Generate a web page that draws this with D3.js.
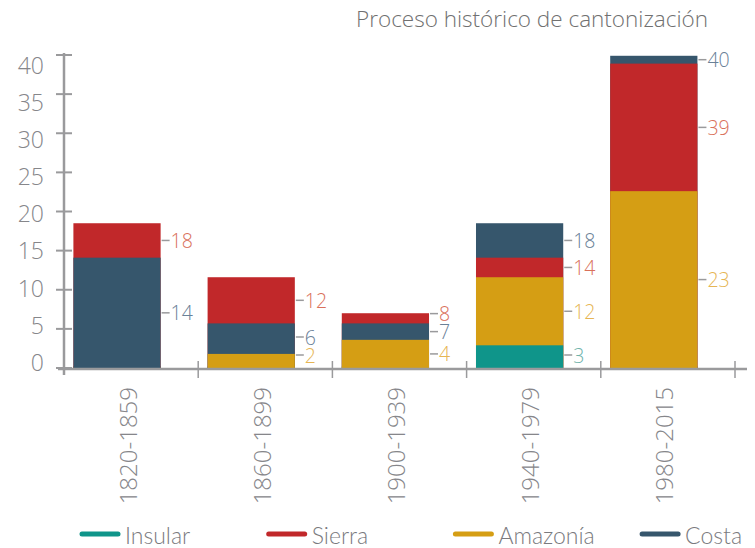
<!DOCTYPE html>
<html>
<head>
<meta charset="utf-8">
<script src="https://cdn.jsdelivr.net/npm/d3@7"></script>
<style>
  html, body { margin: 0; padding: 0; background: #fff; }
  svg { display: block; }
  text { font-family: "Open Sans", Lato, sans-serif; }
  .legend text { font-family: Lato, "Open Sans", sans-serif; }
</style>
</head>
<body>
<svg id="chart" width="755" height="548"></svg>
<script>
// ---- data ----
const title = "Proceso histórico de cantonización";
const categories = ["1820-1859", "1860-1899", "1900-1939", "1940-1979", "1980-2015"];
const seriesNames = ["Insular", "Sierra", "Amazonía", "Costa"];
const insular  = [0, 0, 0, 2.9, 0];
const sierra   = [18.5, 11.6, 7.0, 14.1, 38.9];
const amazonia = [0, 1.8, 3.6, 11.6, 22.6];
const costa    = [14.1, 5.7, 5.7, 18.5, 39.9];
const insularLabels  = ["", "", "", "3", ""];
const sierraLabels   = ["18", "12", "8", "14", "39"];
const amazoniaLabels = ["", "2", "4", "12", "23"];
const costaLabels    = ["14", "6", "7", "18", "40"];
const yTicks = [0, 5, 10, 15, 20, 25, 30, 35, 40];

// ---- styles ----
const barColors   = { "Insular": "#0f958a", "Sierra": "#c1282a", "Amazonía": "#d59e14", "Costa": "#36566c" };
const labelColors = { "Insular": "#6fb3ab", "Sierra": "#d9705a", "Amazonía": "#e6b553", "Costa": "#6a8197" };
const axisColor = "#9a9a9c";
const textColor = "#86868a";

const seriesData = {
  "Insular":  { values: insular,  labels: insularLabels },
  "Sierra":   { values: sierra,   labels: sierraLabels },
  "Amazonía": { values: amazonia, labels: amazoniaLabels },
  "Costa":    { values: costa,    labels: costaLabels }
};

const svg = d3.select("#chart");

const y = d3.scaleLinear().domain([0, 40]).range([368, 55]);
const yLab = d3.scaleLinear().domain([0, 40]).range([362, 64.5]);
const x = d3.scaleBand().domain(categories).range([64, 735]);
const bw = x.bandwidth();
const barOff = bw * 0.07, barW = bw * 0.65;

// title
svg.append("text")
  .attr("x", 708).attr("y", 27)
  .attr("text-anchor", "end")
  .attr("font-size", 22.5).attr("font-weight", 300)
  .attr("fill", "#707070")
  .text(title);

// y axis
const gy = svg.append("g");
gy.append("line").attr("x1", 64).attr("x2", 64).attr("y1", 53).attr("y2", 375)
  .attr("stroke", axisColor).attr("stroke-width", 2.5);
gy.selectAll("line.tick").data(yTicks).join("line").attr("class", "tick")
  .attr("x1", 56).attr("x2", 72)
  .attr("y1", d => y(d)).attr("y2", d => y(d))
  .attr("stroke", axisColor).attr("stroke-width", 2);
gy.selectAll("text").data(yTicks).join("text")
  .attr("x", 44).attr("y", d => yLab(d))
  .attr("text-anchor", "end").attr("dominant-baseline", "central")
  .attr("font-size", 23).attr("font-weight", 300).attr("fill", textColor)
  .text(d => d);

// bars
const gBars = svg.append("g");
categories.forEach((cat, i) => {
  const items = seriesNames.map(s => ({ s, v: seriesData[s].values[i], label: seriesData[s].labels[i] }));
  const sorted = items.slice().sort((a, b) => b.v - a.v);
  const x0 = x(cat) + barOff;
  sorted.filter(d => d.v === 0).forEach(d => {
    gBars.append("rect")
      .attr("x", x0).attr("y", y(0) - 1.5).attr("width", barW).attr("height", 1.5)
      .attr("fill", barColors[d.s]);
  });
  sorted.filter(d => d.v > 0).forEach(d => {
    gBars.append("rect")
      .attr("x", x0).attr("y", y(d.v)).attr("width", barW).attr("height", y(0) - y(d.v))
      .attr("fill", barColors[d.s]);
  });
  // labels at visible segment midpoints, resolved for overlap
  const asc = items.filter(d => d.v > 0).sort((a, b) => a.v - b.v);
  let prev = 0;
  const labs = asc.map(d => { const m = (prev + d.v) / 2; prev = d.v; return { ...d, py: y(m) }; });
  const minGap = 18;
  let last = null;
  labs.forEach(l => {
    if (l.py > y(0) - 13) l.py = y(0) - 13;
    if (last !== null && last - l.py < minGap) l.py = last - minGap;
    last = l.py;
  });
  labs.filter(l => l.label !== "").forEach(l => {
    const xr = x0 + barW;
    gBars.append("line")
      .attr("x1", xr + 1).attr("x2", xr + 9).attr("y1", l.py).attr("y2", l.py)
      .attr("stroke", axisColor).attr("stroke-width", 1.5);
    gBars.append("text")
      .attr("x", xr + 10).attr("y", l.py)
      .attr("dominant-baseline", "central")
      .attr("font-size", 19.5).attr("font-weight", 300)
      .attr("fill", labelColors[l.s])
      .text(l.label);
  });
});

// x axis
const gx = svg.append("g");
gx.append("line").attr("x1", 58).attr("x2", 747).attr("y1", 369).attr("y2", 369)
  .attr("stroke", axisColor).attr("stroke-width", 2.5);
const bounds = categories.map(c => x(c) + bw);
gx.selectAll("line.tick").data(bounds).join("line").attr("class", "tick")
  .attr("x1", d => d).attr("x2", d => d).attr("y1", 361).attr("y2", 378)
  .attr("stroke", axisColor).attr("stroke-width", 1.5);
gx.selectAll("text").data(categories).join("text")
  .attr("transform", d => `translate(${x(d) + bw / 2 - 4},387) rotate(-90)`)
  .attr("text-anchor", "end").attr("dominant-baseline", "central")
  .attr("font-size", 24).attr("font-weight", 300).attr("fill", textColor)
  .text(d => d);

// legend
const lg = svg.append("g").attr("class", "legend");
seriesNames.forEach((s, i) => {
  const lx = 80 + i * 186.7;
  lg.append("line").attr("x1", lx + 2).attr("x2", lx + 38).attr("y1", 534).attr("y2", 534)
    .attr("stroke", barColors[s]).attr("stroke-width", 5).attr("stroke-linecap", "round");
  lg.append("text").attr("x", lx + 45).attr("y", 535)
    .attr("dominant-baseline", "central")
    .attr("font-size", 23).attr("font-weight", 300).attr("fill", "#7a7a7e")
    .text(s);
});
</script>
</body>
</html>
